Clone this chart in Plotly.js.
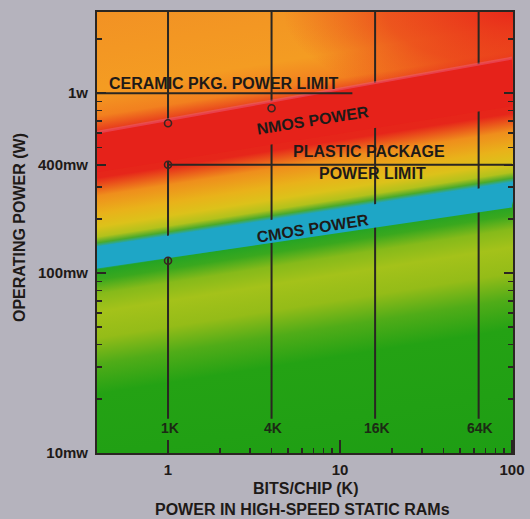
<!DOCTYPE html>
<html>
<head>
<meta charset="utf-8">
<script src="https://cdn.plot.ly/plotly-3.0.1.min.js"></script>
<style>
  html, body { margin: 0; padding: 0; background: #b5b3bd; }
  #chart { width: 530px; height: 519px; }
</style>
</head>
<body>
<div id="chart"></div>
<script>
// ---------- data ----------
const xEdges = [0.386, 100];                 // band end points (K bits/chip)
const nmosTop = [0.606, 1.566];              // NMOS power band, upper edge (W)
const nmosBottom = [0.363, 0.846];           // NMOS power band, lower edge (W)
const cmosTop = [0.1405, 0.315];             // CMOS power band, upper edge (W)
const cmosBottom = [0.1059, 0.2317];         // CMOS power band, lower edge (W)

const chipSizes = [1, 4, 16, 64];            // vertical reference lines
const chipLabels = ['1K', '4K', '16K', '64K'];
const gridTop = 2.83, gridBottom = 0.0155;

const ceramicX = [0.386, 11.8], ceramicY = [1, 1];    // ceramic package limit
const plasticX = [1, 100],      plasticY = [0.4, 0.4]; // plastic package limit

const pointX = [1, 4, 1, 1];
const pointY = [0.68, 0.825, 0.4, 0.117];

const yTickVals = [0.01, 0.1, 0.4, 1];
const yTickText = ['10mw', '100mw', '400mw', '1w'];
const xTickVals = [1, 10, 100];
const xTickText = ['1', '10', '100'];

// ---------- styling helpers ----------
const ink = '#1e1a18';
const lineInk = '#2a2622';
const FONT = 'Liberation Sans, Arial, Helvetica, sans-serif';

// background gradient (decorative), slanted like the bands
const W = 416, H = 441, k = 0.156;
const Lmax = H + k * W;
const f = 1 / (1 + k * k);
const gx2 = (k * Lmax * f).toFixed(2), gy2 = (Lmax * f).toFixed(2);
const stops = [
  [0, '#f29224'], [78, '#f49c22'], [104, '#f2801f'], [118, '#e8401c'],
  [126, '#e6221a'], [166, '#e6261a'], [184, '#ef8e1c'], [202, '#e9b21a'],
  [215, '#dcc21a'], [225, '#b2c21c'], [231, '#4aaa2c'], [235, '#1fa6c4'],
  [254, '#1fa6c4'], [258, '#24a424'], [268, '#3aa81e'], [282, '#86ba1a'], [300, '#a4c21a'],
  [326, '#94bc18'], [352, '#50ac18'], [382, '#24a214'], [Lmax, '#1e9e14']
];
let stopStr = stops.map(s => `<stop offset="${(s[0] / Lmax).toFixed(4)}" stop-color="${s[1]}"/>`).join('');
const svg = `<svg xmlns="http://www.w3.org/2000/svg" width="${W}" height="${H}" viewBox="0 0 ${W} ${H}" preserveAspectRatio="none">
<defs>
<linearGradient id="g" gradientUnits="userSpaceOnUse" x1="0" y1="0" x2="${gx2}" y2="${gy2}">${stopStr}</linearGradient>
<radialGradient id="r" gradientUnits="userSpaceOnUse" cx="${W}" cy="0" r="230" gradientTransform="translate(${W},0) scale(1,0.42) translate(${-W},0)">
<stop offset="0" stop-color="#e8241a" stop-opacity="0.95"/>
<stop offset="0.55" stop-color="#e8281a" stop-opacity="0.6"/>
<stop offset="1" stop-color="#e8301a" stop-opacity="0"/>
</radialGradient>
</defs>
<rect x="0" y="0" width="${W}" height="${H}" fill="url(#g)"/>
<rect x="0" y="0" width="${W}" height="${H}" fill="url(#r)"/>
</svg>`;
const bgSrc = 'data:image/svg+xml;charset=utf-8,' + encodeURIComponent(svg);

// ---------- traces ----------
const gx = [], gy = [];
chipSizes.forEach((c, i) => {
  gx.push(c, c); gy.push(gridTop, gridBottom);
  if (i < chipSizes.length - 1) { gx.push(null); gy.push(null); }
});

const traces = [
  { x: gx, y: gy, mode: 'lines', line: { color: lineInk, width: 2 }, hoverinfo: 'skip', showlegend: false },
  { x: [xEdges[0], xEdges[1], xEdges[1], xEdges[0], xEdges[0]],
    y: [nmosTop[0], nmosTop[1], nmosBottom[1], nmosBottom[0], nmosTop[0]],
    mode: 'lines', fill: 'toself', fillcolor: 'rgb(230,34,26)', line: { width: 0 },
    hoverinfo: 'skip', showlegend: false },
  { x: xEdges, y: nmosTop, mode: 'lines', line: { color: 'rgba(236,100,135,0.45)', width: 3 },
    hoverinfo: 'skip', showlegend: false },
  { x: [xEdges[0], xEdges[1], xEdges[1], xEdges[0], xEdges[0]],
    y: [cmosTop[0], cmosTop[1], cmosBottom[1], cmosBottom[0], cmosTop[0]],
    mode: 'lines', fill: 'toself', fillcolor: 'rgb(30,166,198)', line: { width: 0 },
    hoverinfo: 'skip', showlegend: false },
  { x: ceramicX, y: ceramicY, mode: 'lines', line: { color: lineInk, width: 2 }, hoverinfo: 'skip', showlegend: false },
  { x: plasticX, y: plasticY, mode: 'lines', line: { color: lineInk, width: 2 }, hoverinfo: 'skip', showlegend: false },
  { x: pointX, y: pointY, mode: 'markers',
    marker: { symbol: 'circle-open', size: 7, color: '#3a2420', line: { width: 1.6, color: '#3a2420' } },
    hoverinfo: 'skip', showlegend: false }
];

// ---------- annotations ----------
const px = v => (v - 97) / 416;
const py = v => (453 - v) / 441;
const bold = (size) => ({ family: FONT, size: size, color: ink, weight: 'bold' });
const ann = (text, x, y, extra) => Object.assign({ text: text, xref: 'paper', yref: 'paper', x: px(x), y: py(y),
  xanchor: 'center', yanchor: 'middle', showarrow: false, font: bold(16) }, extra || {});

const annotations = [
  ann('CERAMIC PKG. POWER LIMIT', 107, 83, { xanchor: 'left' }),
  ann('NMOS POWER', 312, 120, { textangle: -9 }),
  ann('PLASTIC PACKAGE', 369, 151),
  ann('POWER LIMIT', 372, 173),
  ann('CMOS POWER', 312, 228, { textangle: -9 }),
  ann('BITS/CHIP (K)', 305, 488),
  ann('POWER IN HIGH-SPEED STATIC RAMs', 302, 510),
  ann('OPERATING POWER (W)', 19, 228, { textangle: -90 })
];
chipSizes.forEach((c, i) => {
  annotations.push({ text: chipLabels[i], xref: 'x', yref: 'paper', x: Math.log10(c) + 0.01, y: py(428),
    xanchor: 'center', yanchor: 'middle', showarrow: false,
    font: { family: FONT, size: 14, color: '#1c2a14', weight: 'bold' } });
});

// ---------- layout ----------
const tickFont = { family: FONT, size: 15, color: ink, weight: 'bold' };
const layout = {
  width: 530, height: 519,
  margin: { l: 97, r: 17, t: 12, b: 66, pad: 0 },
  paper_bgcolor: '#b5b3bd',
  plot_bgcolor: 'rgba(0,0,0,0)',
  showlegend: false,
  xaxis: {
    type: 'log', range: [-0.413, 2.006], autorange: false,
    tickmode: 'array', tickvals: xTickVals, ticktext: xTickText,
    ticks: 'inside', ticklen: 13, tickwidth: 2, tickcolor: lineInk,
    minor: { tickmode: 'array', tickvals: [2,3,4,5,6,7,8,9,20,30,40,50,60,70,80,90], ticks: 'inside', ticklen: 5, tickwidth: 1.5, tickcolor: lineInk, showgrid: false },
    showline: true, linecolor: lineInk, linewidth: 2, mirror: true,
    showgrid: false, zeroline: false, tickfont: tickFont, ticklabelstandoff: 2
  },
  yaxis: {
    type: 'log', range: [-2, 0.451], autorange: false,
    tickmode: 'array', tickvals: yTickVals, ticktext: yTickText,
    ticks: 'inside', ticklen: 9, tickwidth: 2, tickcolor: lineInk,
    minor: { tickmode: 'array', tickvals: [0.02,0.03,0.04,0.05,0.06,0.07,0.08,0.09,0.2,0.3,0.5,0.6,0.7,0.8,0.9,2], ticks: 'inside', ticklen: 5, tickwidth: 1.5, tickcolor: lineInk, showgrid: false },
    showline: true, linecolor: lineInk, linewidth: 2, mirror: 'ticks',
    showgrid: false, zeroline: false, tickfont: tickFont, ticklabelstandoff: 4
  },
  images: [{ source: bgSrc, xref: 'paper', yref: 'paper', x: 0, y: 1, sizex: 1, sizey: 1,
    xanchor: 'left', yanchor: 'top', sizing: 'stretch', layer: 'below' }],
  annotations: annotations
};

Plotly.newPlot('chart', traces, layout, { displayModeBar: false, staticPlot: true });
</script>
</body>
</html>
